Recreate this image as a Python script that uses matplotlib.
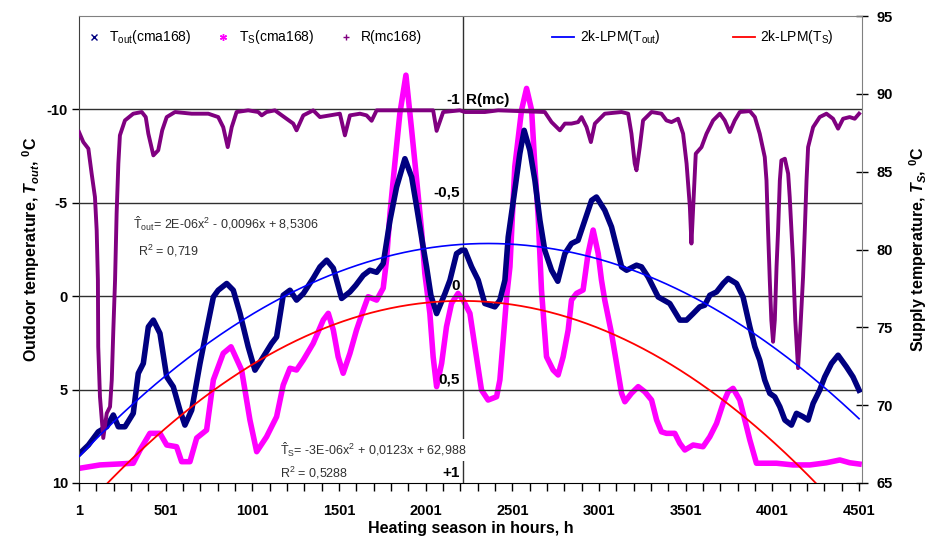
import numpy as np
import matplotlib
matplotlib.use("Agg")
import matplotlib.pyplot as plt
from matplotlib.lines import Line2D
from matplotlib.ticker import FixedLocator, NullFormatter

plt.rcParams['font.family'] = ['Liberation Sans', 'DejaVu Sans']
plt.rcParams['mathtext.fontset'] = 'custom'
plt.rcParams['mathtext.rm'] = 'Liberation Sans'
plt.rcParams['mathtext.it'] = 'Liberation Sans:italic'
plt.rcParams['mathtext.bf'] = 'Liberation Sans:bold'
plt.rcParams['mathtext.bfit'] = 'Liberation Sans:bold:italic'

# ---------------------
# data
# ---------------------
# outdoor temperature, 168 h centred moving average (left axis, deg C)
tout_h = [6, 55, 112, 161, 199, 228, 266, 314, 343, 372, 401, 430, 468, 507, 545,
          583, 612, 651, 699, 737, 776, 804, 853, 891, 930, 977, 1016, 1064, 1112,
          1141, 1179, 1218, 1256, 1295, 1352, 1391, 1430, 1468, 1516, 1564, 1598,
          1641, 1679, 1718, 1756, 1795, 1833, 1881, 1920, 1949, 1977, 2006, 2031,
          2064, 2112, 2141, 2179, 2208, 2227, 2266, 2304, 2342, 2400, 2429, 2458,
          2477, 2515, 2544, 2569, 2602, 2631, 2660, 2688, 2727, 2763, 2804, 2842,
          2880, 2919, 2958, 2986, 3034, 3073, 3102, 3131, 3160, 3217, 3246, 3284,
          3342, 3409, 3467, 3506, 3544, 3582, 3611, 3640, 3679, 3717, 3746, 3794,
          3832, 3871, 3900, 3928, 3957, 3986, 4015, 4044, 4073, 4111, 4140, 4178,
          4207, 4236, 4274, 4303, 4342, 4380, 4428, 4466, 4501]
tout_val = [8.41, 7.97, 7.26, 6.99, 6.36, 6.99, 6.99, 6.27, 4.13, 3.60, 1.64, 1.28,
            1.99, 4.32, 4.85, 6.10, 6.90, 6.10, 3.60, 1.82, 0.04, -0.32, -0.68, -0.32,
            0.93, 2.71, 3.96, 3.25, 2.53, 2.18, -0.05, -0.32, 0.21, -0.14, -0.96,
            -1.57, -1.93, -1.50, 0.12, -0.23, -0.59, -1.12, -1.39, -1.28, -1.75,
            -4.06, -5.84, -7.36, -6.38, -4.78, -3.17, -1.57, -0.05, 0.93, -0.14,
            -0.86, -2.28, -2.46, -2.46, -1.57, -0.86, 0.39, 0.57, 0.21, -0.86, -3.17,
            -5.67, -7.63, -8.88, -7.81, -6.20, -4.06, -2.46, -1.39, -0.80, -2.28,
            -2.82, -2.99, -4.06, -5.13, -5.31, -4.60, -3.71, -2.64, -1.57, -1.39,
            -1.66, -1.57, -1.03, 0.04, 0.39, 1.28, 1.28, 0.93, 0.57, 0.48, -0.05,
            -0.23, -0.68, -0.95, -0.68, 0.04, 1.64, 2.71, 3.42, 4.49, 5.20, 5.39,
            5.92, 6.63, 6.90, 6.27, 6.45, 6.63, 5.74, 5.03, 4.32, 3.60, 3.16, 3.78,
            4.32, 5.03]

# supply temperature, 168 h centred moving average (right axis, deg C)
ts_h = [1, 122, 314, 353, 410, 468, 507, 564, 593, 641, 680, 737, 776, 833, 878,
        939, 987, 1026, 1083, 1141, 1179, 1218, 1256, 1295, 1352, 1410, 1439, 1468,
        1496, 1525, 1564, 1602, 1641, 1669, 1718, 1756, 1775, 1795, 1823, 1852,
        1887, 1920, 1949, 1977, 1996, 2025, 2044, 2064, 2093, 2121, 2150, 2188,
        2217, 2256, 2285, 2323, 2361, 2410, 2429, 2448, 2468, 2487, 2515, 2554,
        2583, 2612, 2631, 2650, 2669, 2698, 2736, 2765, 2794, 2823, 2842, 2871,
        2909, 2938, 2967, 2996, 3015, 3034, 3073, 3102, 3131, 3150, 3188, 3227,
        3265, 3304, 3333, 3361, 3390, 3438, 3467, 3496, 3544, 3601, 3640, 3679,
        3717, 3746, 3774, 3813, 3842, 3871, 3909, 3947, 4025, 4120, 4217, 4313,
        4390, 4447, 4501]
ts_val = [65.94, 66.16, 66.27, 67.12, 68.19, 68.19, 67.44, 67.33, 66.37, 66.37,
          67.89, 68.40, 71.62, 73.33, 73.75, 72.26, 69.05, 67.01, 67.97, 69.26,
          71.29, 72.37, 72.26, 72.90, 73.97, 75.47, 75.90, 74.83, 73.11, 72.05,
          73.33, 74.83, 76.11, 76.97, 76.75, 77.52, 79.32, 82.32, 85.53, 88.74,
          91.20, 87.67, 84.46, 81.25, 78.47, 75.90, 73.11, 71.19, 72.69, 75.04,
          76.54, 77.18, 76.75, 75.90, 73.75, 70.97, 70.33, 70.54, 71.62, 74.18,
          76.97, 78.89, 85.32, 88.96, 90.35, 88.96, 85.32, 82.10, 77.40, 73.11,
          72.26, 71.94, 73.11, 74.83, 76.75, 77.18, 77.40, 79.75, 81.25, 79.75,
          78.04, 76.75, 74.61, 72.69, 70.76, 70.22, 70.76, 71.19, 70.86, 70.33,
          69.05, 68.29, 68.19, 68.19, 67.55, 67.12, 67.44, 67.33, 67.97, 68.83,
          70.12, 70.86, 71.08, 70.33, 69.05, 67.76, 66.27, 66.27, 66.27, 66.16,
          66.16, 66.30, 66.48, 66.30, 66.22]

# moving correlation coefficient, 168 h window (-1 .. +1)
r_h = [1, 26, 55, 74, 93, 103, 110, 112, 122, 141, 161, 180, 190, 199, 209, 218,
       228, 237, 266, 314, 363, 386, 401, 430, 458, 481, 507, 555, 651, 747, 804,
       833, 859, 882, 910, 977, 1035, 1055, 1083, 1131, 1237, 1256, 1295, 1352,
       1391, 1449, 1506, 1535, 1564, 1622, 1660, 1689, 1718, 2044, 2064, 2102,
       2198, 2227, 2342, 2419, 2688, 2727, 2775, 2804, 2842, 2880, 2900, 2929,
       2954, 2977, 3034, 3131, 3169, 3188, 3207, 3217, 3236, 3255, 3304, 3361,
       3390, 3419, 3457, 3486, 3506, 3525, 3534, 3544, 3559, 3592, 3621, 3659,
       3698, 3726, 3755, 3784, 3813, 3871, 3900, 3928, 3957, 3967, 3976, 3986,
       3995, 4005, 4015, 4025, 4034, 4044, 4053, 4073, 4092, 4101, 4111, 4120,
       4133, 4149, 4162, 4178, 4188, 4198, 4207, 4236, 4274, 4313, 4351, 4380,
       4409, 4447, 4476, 4501]
r_val = [-0.879, -0.825, -0.790, -0.656, -0.531, -0.353, -0.086, 0.271, 0.539,
         0.759, 0.627, 0.592, 0.449, 0.182, -0.086, -0.442, -0.710, -0.861,
         -0.941, -0.977, -0.986, -0.959, -0.870, -0.754, -0.781, -0.888, -0.959,
         -0.986, -0.977, -0.977, -0.959, -0.905, -0.798, -0.905, -0.986, -0.995,
         -0.986, -0.968, -0.986, -0.995, -0.924, -0.888, -0.968, -0.995, -0.959,
         -0.968, -0.977, -0.861, -0.968, -0.977, -0.968, -0.939, -0.995, -0.995,
         -0.885, -0.986, -0.995, -0.986, -0.986, -0.995, -0.986, -0.932, -0.888,
         -0.924, -0.924, -0.932, -0.959, -0.905, -0.825, -0.924, -0.977, -0.986,
         -0.977, -0.870, -0.710, -0.674, -0.798, -0.941, -0.986, -0.977, -0.941,
         -0.932, -0.950, -0.870, -0.710, -0.478, -0.282, -0.478, -0.763, -0.798,
         -0.870, -0.941, -0.977, -0.941, -0.879, -0.941, -0.986, -0.991, -0.959,
         -0.870, -0.745, -0.620, -0.353, -0.086, 0.128, 0.244, 0.128, -0.157,
         -0.353, -0.620, -0.727, -0.736, -0.656, -0.531, -0.353, -0.193, 0.128,
         0.385, 0.182, -0.103, -0.353, -0.620, -0.798, -0.905, -0.959, -0.977,
         -0.950, -0.897, -0.950, -0.959, -0.950, -0.977]

# points read on the two polynomial trend lines
trend_tout_h = [1, 501, 1001, 1501, 2001, 2501, 3001, 3501, 4001, 4501]
trend_tout_val = [8.5, 4.2, 1.2, -1.3, -2.57, -2.78, -2.19, -0.05, 2.62, 6.63]
trend_ts_h = [168, 501, 1001, 1501, 2001, 2501, 3001, 3501, 4001, 4245]
trend_ts_val = [65.0, 68.4, 72.8, 75.4, 76.5, 76.4, 74.8, 72.1, 67.8, 65.0]

x_labels = ['1', '501', '1001', '1501', '2001', '2501', '3001', '3501', '4001', '4501']
r_marks = ['-0,5', '0', '0,5', '+1']
r_mark_levels = [-5, 0, 5, 10]
split_hour = 2215

NAVY = '#000080'
MAGENTA = '#FF00FF'
PURPLE = '#800080'

# ---------------------
# axes
# ---------------------
fig = plt.figure(figsize=(9.3, 5.51), dpi=100)
pos = [79 / 930, 68 / 551, 783 / 930, 467 / 551]
ax = fig.add_axes(pos)          # outdoor temperature (left)
ax_ts = ax.twinx()              # supply temperature (right)
ax_r = ax.twinx()               # correlation (hidden)
ax_bt = ax.twinx()              # blue trend (left scale)
ax_rt = ax.twinx()              # red trend (right scale)

for i, a in enumerate([ax_ts, ax, ax_r, ax_bt, ax_rt]):
    a.set_zorder(i + 1)
    a.patch.set_visible(False)

xlim = (1, 4518)
for a in [ax, ax_ts, ax_r, ax_bt, ax_rt]:
    a.set_xlim(*xlim)
ax.set_ylim(10, -15)
ax_bt.set_ylim(10, -15)
ax_ts.set_ylim(65, 95)
ax_rt.set_ylim(65, 95)
ax_r.set_ylim(1.0, -1.5)

for a in [ax_r, ax_bt, ax_rt]:
    a.yaxis.set_visible(False)
    for s in a.spines.values():
        s.set_visible(False)

# ---------------------
# series
# ---------------------
ax_ts.plot(ts_h, ts_val, color=MAGENTA, lw=4.0, solid_joinstyle='round')
ax.plot(tout_h, tout_val, color=NAVY, lw=4.0, solid_joinstyle='round')
ax_r.plot(r_h, r_val, color=PURPLE, lw=2.8, solid_joinstyle='round')

hh = np.linspace(1, 4501, 500)
cb = np.polyfit(trend_tout_h, trend_tout_val, 2)
ax_bt.plot(hh, np.polyval(cb, hh), color='#0000FF', lw=1.2)
cr = np.polyfit(trend_ts_h, trend_ts_val, 2)
ax_rt.plot(hh, np.polyval(cr, hh), color='#FF0000', lw=1.3)

# ---------------------
# grid, ticks, spines
# ---------------------
for lev in [-10, -5, 0, 5]:
    ax.axhline(lev, color='#303030', lw=1.0, zorder=0.5)
ax.axvline(split_hour, color='#303030', lw=1.0, zorder=0.5)

ax.set_yticks([-10, -5, 0, 5, 10])
ax.set_yticklabels(['-10', '-5', '0', '5', '10'])
ax.tick_params(axis='y', direction='out', length=5, width=1, pad=3,
               labelsize=10.5)
ax_ts.set_yticks([65, 70, 75, 80, 85, 90, 95])
ax_ts.tick_params(axis='y', direction='inout', length=9, width=1, pad=6,
                  labelsize=10.5)

major = list(range(1, 4502, 500))
minor = [h for h in range(1, 4502, 100) if h not in major]
ax.xaxis.set_major_locator(FixedLocator(major))
ax.xaxis.set_minor_locator(FixedLocator(minor))
ax.set_xticklabels(x_labels)
ax.xaxis.set_minor_formatter(NullFormatter())
ax.tick_params(axis='x', which='both', direction='out', length=6, width=1,
               pad=9, labelsize=10.5)
for a in [ax_ts, ax_r, ax_bt, ax_rt]:
    a.tick_params(axis='x', which='both', length=0, labelbottom=False)

for lab in ax.get_xticklabels() + ax.get_yticklabels() + ax_ts.get_yticklabels():
    lab.set_fontweight('bold')

ax.spines['left'].set_color('#404040')
ax.spines['top'].set_color('#808080')
ax.spines['right'].set_visible(False)
ax_ts.spines['right'].set_color('#808080')
ax_ts.spines['left'].set_visible(False)
ax_ts.spines['top'].set_visible(False)
ax_ts.spines['bottom'].set_visible(False)

ax.set_xlabel('Heating season in hours, h', fontsize=11.5, fontweight='bold',
              labelpad=2)
ax.set_ylabel(r'Outdoor temperature, $\mathbfit{T}_{\mathbfit{out}}$, $^{\mathbf{0}}$C',
              fontsize=11.5, fontweight='bold', labelpad=3)
ax_ts.set_ylabel(r'Supply temperature, $\mathbfit{T}_{\mathbfit{S}}$, $^{\mathbf{0}}$C',
                 fontsize=11.5, fontweight='bold', labelpad=10)

# ---------------------
# annotations
# ---------------------
ax.text(split_hour - 17, -10.15, '-1', ha='right', va='bottom', fontsize=11,
        fontweight='bold')
ax.text(split_hour + 17, -10.15, 'R(mc)', ha='left', va='bottom', fontsize=11,
        fontweight='bold')
for txt, lev in zip(r_marks, r_mark_levels):
    ax.text(split_hour - 17, lev - 0.15, txt, ha='right', va='bottom',
            fontsize=11, fontweight='bold', zorder=5)

ax.text(312, -3.9, r'$\hat{\mathrm{T}}_{\mathrm{out}}$= 2E-06x$^2$ - 0,0096x + 8,5306',
        fontsize=9, color='#303030', va='center')
ax.text(341, -2.4, r'R$^2$ = 0,719', fontsize=9, color='#303030', va='center')
ax.text(1160, 8.24, r'$\hat{\mathrm{T}}_{\mathrm{S}}$= -3E-06x$^2$ + 0,0123x + 62,988',
        fontsize=9, color='#303030', va='center',
        bbox=dict(facecolor='white', edgecolor='none', pad=1))
ax.text(1160, 9.47, r'R$^2$ = 0,5288', fontsize=9, color='#303030', va='center')

# ---------------------
# legends
# ---------------------
h_tout = Line2D([], [], ls='none', marker='x', color=NAVY, ms=4, mew=1)
h_ts = Line2D([], [], ls='none', marker=(6, 2, 0), color=MAGENTA, ms=5, mew=1)
h_r = Line2D([], [], ls='none', marker='+', color=PURPLE, ms=5, mew=1)
leg1 = ax_rt.legend([h_tout, h_ts, h_r],
                    [r'T$_{\mathrm{out}}$(cma168)', r'T$_{\mathrm{S}}$(cma168)', 'R(mc168)'],
                    loc='upper left', bbox_to_anchor=(-0.006, 1.0), ncol=3,
                    frameon=False, fontsize=10, handlelength=1.0,
                    handletextpad=0.6, columnspacing=1.8, borderaxespad=0.5)
ax_rt.add_artist(leg1)
h_bl = Line2D([], [], color='#0000FF', lw=1.3)
h_rl = Line2D([], [], color='#FF0000', lw=1.3)
ax_rt.legend([h_bl, h_rl], [r'2k-LPM(T$_{\mathrm{out}}$)', r'2k-LPM(T$_{\mathrm{S}}$)'],
             loc='upper left', bbox_to_anchor=(0.588, 1.0), ncol=2, frameon=False,
             fontsize=10, handlelength=1.6, handletextpad=0.4,
             columnspacing=5.2, borderaxespad=0.5)

fig.savefig('out.png', dpi=100, facecolor='white')
